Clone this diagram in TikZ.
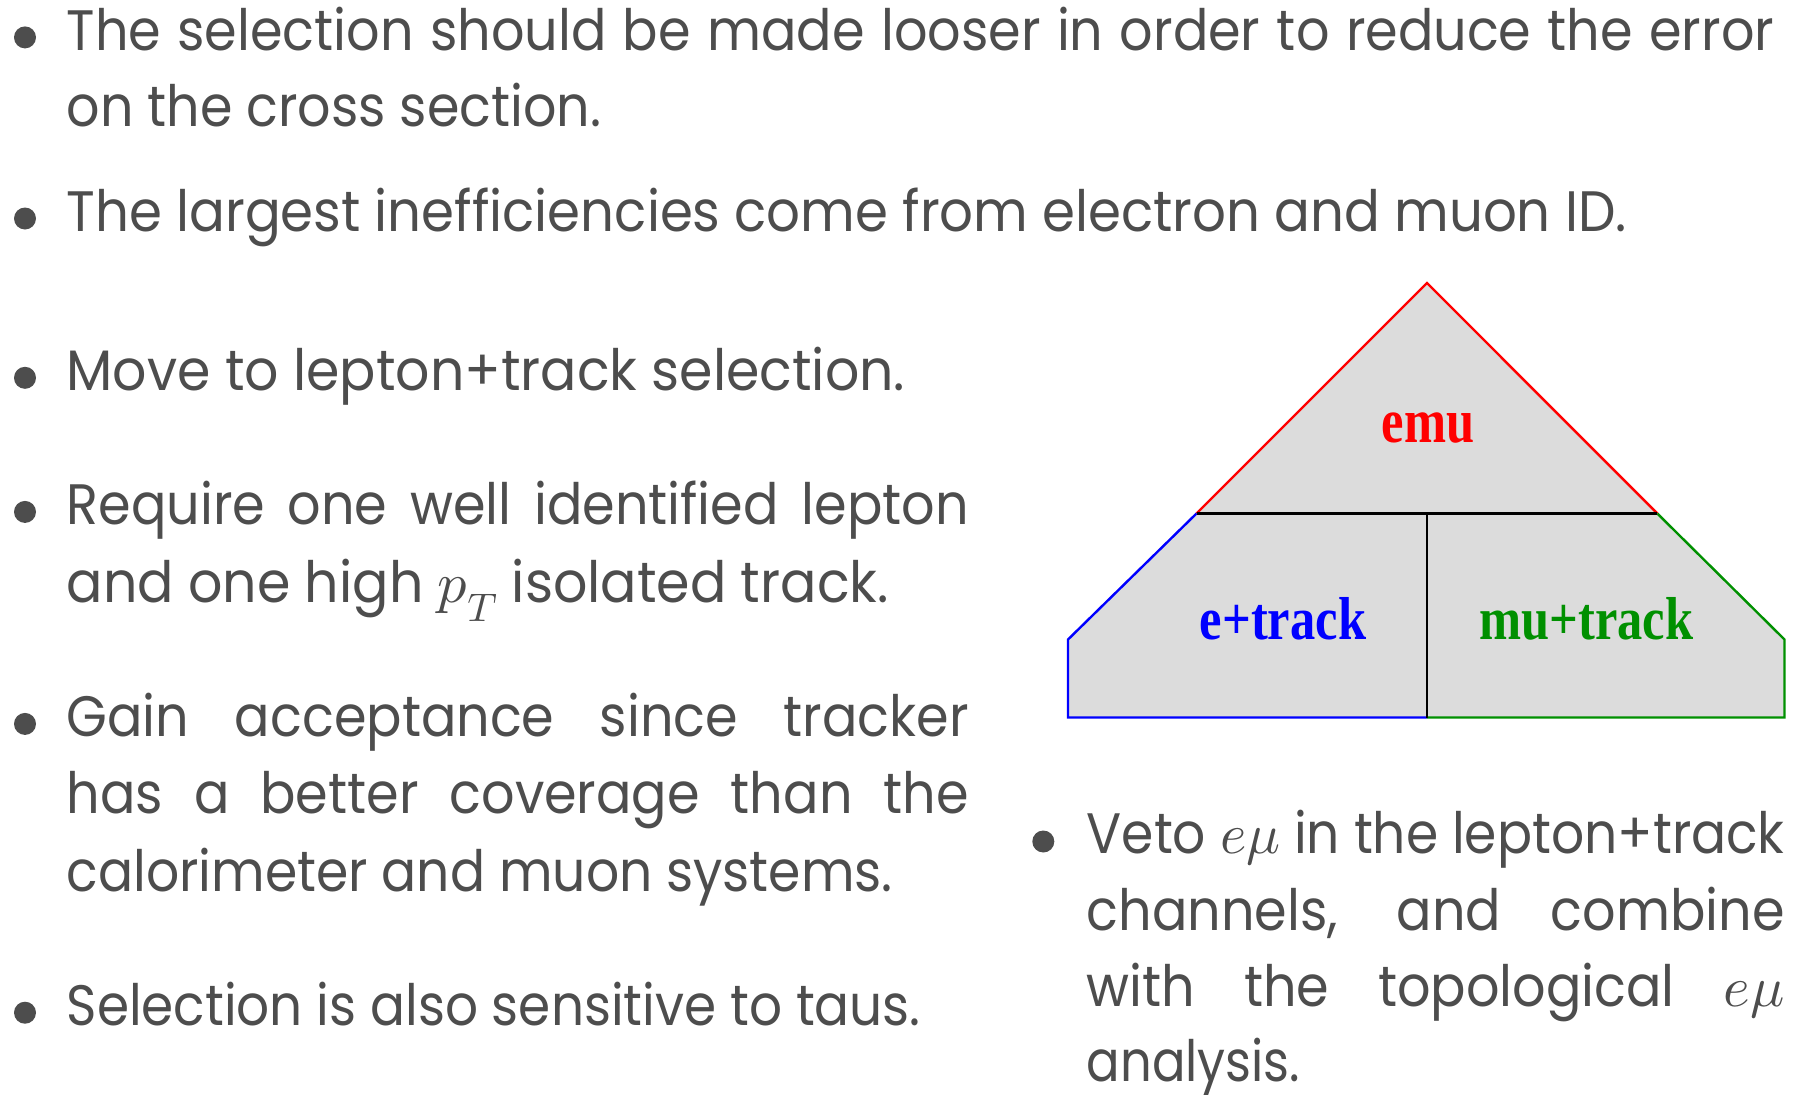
\documentclass[tikz,border=0pt]{standalone}
\usepackage{fontspec}
\setmainfont{Poppins}[FakeStretch=0.92]
\newfontfamily\tnr{Liberation Serif}
\DeclareFontShape{OML}{cmm}{m}{it}{<-> cmmi10}{}
\definecolor{txt}{HTML}{4D4D4D}
\definecolor{fillg}{HTML}{DCDCDC}
\definecolor{grn}{HTML}{009000}
\newsavebox\linebx
% justified line of given width
\newcommand\jline[2]{\sbox\linebx{#2}\ifdim\wd\linebx>#1\relax\resizebox{#1}{\ht\linebx}{\usebox\linebx}\else\makebox[#1][s]{#2}\fi}
% natural line fitted to a measured width
\newcommand\fline[2]{\resizebox{#1}{\height}{#2}}
\begin{document}
\begin{tikzpicture}[x=1pt,y=-1pt,
  tline/.style={anchor=base west, inner sep=0pt, text=txt, font=\fontsize{57}{68}\selectfont},
  bul/.style={circle, fill=txt, minimum size=22pt, inner sep=0pt},
  lab/.style={inner sep=0pt, anchor=base, font=\tnr\bfseries\fontsize{50.5}{60}\selectfont},
  edge/.style={line width=2.4pt, line join=miter}]
\path[use as bounding box] (0,0) rectangle (1797,1095);
% ---- left column text
\node[tline] (t1) at (66.5,50.4) {\jline{1707.5pt}{The selection should be made looser in order to reduce the error}};
\node[tline] (t2) at (66.5,126.1) {\fline{534.5pt}{on the cross section.}};
\node[tline] (t3) at (66.5,231.5) {\fline{1560pt}{The largest inefficiencies come from electron and muon ID.}};
\node[tline] (t4) at (66.5,390.8) {\fline{838.5pt}{Move to lepton+track selection.}};
\node[tline] (t5) at (66.5,524.9) {\jline{902pt}{Require one well identified lepton}};
\node[tline] (t6) at (66.5,602.8) {\fline{822pt}{and one high $p_T$ isolated track.}};
\node[tline] (t7) at (66.5,736.9) {\jline{902pt}{Gain acceptance since tracker}};
\node[tline] (t8) at (66.5,813.7) {\jline{902pt}{has a better coverage than the}};
\node[tline] (t9) at (66.5,891.7) {\fline{826pt}{calorimeter and muon systems.}};
\node[tline] (t10) at (66.5,1025.7) {\fline{854pt}{Selection is also sensitive to taus.}};
% ---- right column text
\node[tline] (r1) at (1086.5,853.5) {\jline{698pt}{Veto $e\mu$ in the lepton+track}};
\node[tline] (r2) at (1086.5,930) {\jline{698pt}{channels, and combine}};
\node[tline] (r3) at (1086.5,1006.5) {\jline{698pt}{with the topological $e\mu$}};
\node[tline] (r4) at (1086.5,1081.5) {\fline{213.5pt}{analysis.}};
% ---- bullets
\node[bul] (b1) at (25,37.4) {};
\node[bul] (b2) at (25,218.5) {};
\node[bul] (b3) at (25,377.8) {};
\node[bul] (b4) at (25,511.9) {};
\node[bul] (b5) at (25,723.9) {};
\node[bul] (b6) at (25,1012.7) {};
\node[bul] (b7) at (1043.3,841.5) {};
% ---- diagram
\coordinate (apex) at (1427,283);
\coordinate (ml) at (1196.5,513.5);
\coordinate (mr) at (1657.3,513.5);
\coordinate (mc) at (1427,513.5);
\coordinate (cl) at (1068,639.5);
\coordinate (cr) at (1784.5,639.5);
\coordinate (bl) at (1068,717.5);
\coordinate (br) at (1784.5,717.5);
\coordinate (bc) at (1427,717.5);
\fill[fillg] (apex) -- (mr) -- (cr) -- (br) -- (bl) -- (cl) -- (ml) -- cycle;
\draw[edge, red] (ml) -- (apex) -- (mr);
\draw[edge, blue] (ml) -- (cl) -- (bl) -- (bc);
\draw[edge, grn] (mr) -- (cr) -- (br) -- (bc);
\draw[edge, black] (ml) -- (mr);
\draw[edge, black] (mc) -- (bc);
\node[lab, text=red] (emu) at (1428,442) {\scalebox{1}[1.25]{emu}};
\node[lab, text=blue] (etrk) at (1283,639.5) {\scalebox{1}[1.2]{e+track}};
\node[lab, text=grn] (mutrk) at (1586.5,639.5) {\scalebox{1}[1.2]{mu+track}};
\end{tikzpicture}
\end{document}
